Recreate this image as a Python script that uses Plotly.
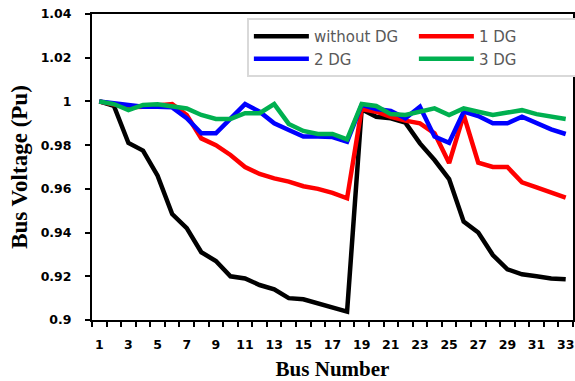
import plotly.graph_objects as go

bus = list(range(1, 34))

v_without_dg = [1.000, 0.998, 0.981, 0.9775, 0.966, 0.9485, 0.942, 0.931, 0.927, 0.920,
                0.919, 0.916, 0.914, 0.910, 0.9095, 0.9076, 0.9056, 0.9038, 0.9964, 0.993,
                0.9923, 0.9903, 0.9808, 0.9732, 0.9645, 0.945, 0.940, 0.9297, 0.9232, 0.9209,
                0.920, 0.919, 0.9186]

v_1dg = [1.000, 0.9988, 0.9973, 0.9976, 0.998, 0.9988, 0.9938, 0.9831, 0.980, 0.9755,
         0.970, 0.9668, 0.9648, 0.9633, 0.9612, 0.960, 0.9582, 0.9557, 0.9965, 0.9953,
         0.993, 0.9912, 0.990, 0.9854, 0.9718, 0.9938, 0.972, 0.970, 0.970, 0.963,
         0.9607, 0.9582, 0.956]

v_2dg = [1.000, 0.9991, 0.9982, 0.9976, 0.9976, 0.9973, 0.9923, 0.9854, 0.9854, 0.9923,
         0.9988, 0.9953, 0.990, 0.9869, 0.9839, 0.9839, 0.9837, 0.9816, 0.9984, 0.9965,
         0.9956, 0.9923, 0.9976, 0.9839, 0.9811, 0.9953, 0.9933, 0.990, 0.990, 0.993,
         0.990, 0.9872, 0.9851]

v_3dg = [1.000, 0.9988, 0.996, 0.9984, 0.9987, 0.9979, 0.9968, 0.9938, 0.992, 0.992,
         0.9946, 0.9946, 0.9988, 0.9897, 0.9865, 0.9851, 0.9851, 0.9826, 0.9988, 0.9979,
         0.9942, 0.9938, 0.9953, 0.9968, 0.9938, 0.9968, 0.9953, 0.9938, 0.9949, 0.996,
         0.9942, 0.993, 0.992]

series_names = ["without DG", "1 DG", "2 DG", "3 DG"]
series_values = [v_without_dg, v_1dg, v_2dg, v_3dg]
series_colors = ["#000000", "#FF0000", "#0000FF", "#00B050"]

x_tick_vals = list(range(1, 34, 2))
x_tick_text = [str(v) for v in x_tick_vals]
y_tick_vals = [0.90, 0.92, 0.94, 0.96, 0.98, 1.00, 1.02, 1.04]
y_tick_text = ["0.9", "0.92", "0.94", "0.96", "0.98", "1", "1.02", "1.04"]

fig = go.Figure()
for name, vals, col in zip(series_names, series_values, series_colors):
    fig.add_trace(go.Scatter(x=bus, y=vals, mode="lines", name=name,
                             line=dict(color=col, width=4.5)))

tick_font = dict(family="DejaVu Sans", size=12.5, color="#000000", weight="bold")

fig.update_layout(
    width=575, height=381,
    margin=dict(l=92, r=2, t=14, b=61, autoexpand=False),
    paper_bgcolor="white", plot_bgcolor="white",
    showlegend=True,
    legend=dict(
        orientation="h", x=0.322, y=0.987, xanchor="left", yanchor="top",
        bgcolor="white", bordercolor="#D9D9D9", borderwidth=2,
        font=dict(family="DejaVu Sans", size=15, color="#595959"),
        itemwidth=55, entrywidth=95, entrywidthmode="pixels", traceorder="normal",
    ),
    xaxis=dict(
        range=[0.5, 33.5], tickmode="array", tickvals=x_tick_vals, ticktext=x_tick_text,
        ticks="", showgrid=False, zeroline=False, automargin=False,
        showline=True, linecolor="black", linewidth=2, mirror=True,
        tickfont=tick_font, ticklabelstandoff=12, ticklabeloverflow="allow",
        minor=dict(ticks="outside", tick0=0.5, dtick=1, ticklen=5, tickcolor="black",
                   tickwidth=1.5, showgrid=False),
        title=dict(text="Bus Number",
                   font=dict(family="Liberation Serif", size=21, color="#000000", weight="bold"),
                   standoff=12),
    ),
    yaxis=dict(
        range=[0.9, 1.04], tickmode="array", tickvals=y_tick_vals, ticktext=y_tick_text,
        ticks="outside", ticklen=5, tickwidth=1.5, tickcolor="black",
        showgrid=False, zeroline=False, automargin=False,
        showline=True, linecolor="black", linewidth=2, mirror=True,
        tickfont=tick_font, ticklabelstandoff=11, ticklabeloverflow="allow",
        title=dict(text="Bus Voltage (Pu)",
                   font=dict(family="Liberation Serif", size=23, color="#000000", weight="bold"),
                   standoff=7),
    ),
)

# Remove the browser's default page margin so the 575x381 figure fills the window exactly.
fig.write_html(
    "out.html",
    config={"displayModeBar": False},
    post_script="document.documentElement.style.overflow='hidden';"
                "document.body.style.margin='0';document.body.style.overflow='hidden';",
)
